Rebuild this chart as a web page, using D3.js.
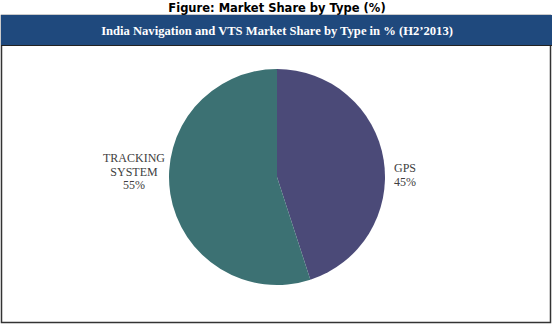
<!DOCTYPE html>
<html>
<head>
<meta charset="utf-8">
<script src="https://cdn.jsdelivr.net/npm/d3@7"></script>
<style>
  body { margin: 0; background: #fff; }
</style>
</head>
<body>
<div id="chart"></div>
<script>
var types = ["GPS", "TRACKING SYSTEM"];
var shares = [45, 55];
var label_lines = [["GPS", "45%"], ["TRACKING", "SYSTEM", "55%"]];
var colors = ["#4b4a78", "#3c7173"];

var full_width = 553, full_height = 325;

var svg = d3.select("#chart")
            .append("svg")
            .attr("width", full_width)
            .attr("height", full_height);

// figure caption
svg.append("text")
   .attr("x", 277)
   .attr("y", 12)
   .attr("text-anchor", "middle")
   .attr("font-family", "DejaVu Sans, Verdana, sans-serif")
   .attr("font-weight", "bold")
   .attr("font-size", "11.5px")
   .attr("fill", "#000")
   .text("Figure: Market Share by Type (%)");

// box
svg.append("rect")
   .attr("x", 1.5).attr("y", 15.5)
   .attr("width", 549).attr("height", 307)
   .attr("fill", "#fff")
   .attr("stroke", "#333")
   .attr("stroke-width", 1.5);

// header band
svg.append("rect")
   .attr("x", 1).attr("y", 15)
   .attr("width", 551).attr("height", 30)
   .attr("fill", "#1f497d");

svg.append("line")
   .attr("x1", 1).attr("x2", 552)
   .attr("y1", 45.5).attr("y2", 45.5)
   .attr("stroke", "#222");

svg.append("text")
   .attr("x", 277)
   .attr("y", 35)
   .attr("text-anchor", "middle")
   .attr("font-family", "Liberation Serif, Times New Roman, serif")
   .attr("font-weight", "bold")
   .attr("font-size", "12.6px")
   .attr("fill", "#fff")
   .text("India Navigation and VTS Market Share by Type in % (H2\u20192013)");

// pie
var cx = 277, cy = 177, radius = 108;

var pie = d3.pie().sort(null).value(d => d);
var arc = d3.arc().innerRadius(0).outerRadius(radius);

var g = svg.append("g")
           .attr("transform", "translate(" + cx + "," + cy + ")");

var arcs = pie(shares);

g.selectAll("path")
 .data(arcs)
 .enter().append("path")
 .attr("d", arc)
 .attr("fill", (d, i) => colors[i]);

// labels outside the pie, left / right of it
arcs.forEach(function(d, i) {
    var tx = i == 0 ? 128 : -143;
    var ty = i == 0 ? -5 : -15;
    var t = g.append("text")
             .attr("text-anchor", "middle")
             .attr("font-family", "Liberation Serif, Times New Roman, serif")
             .attr("font-size", "12px")
             .attr("fill", "#404040");
    label_lines[i].forEach(function(s, k) {
        t.append("tspan")
         .attr("x", tx)
         .attr("y", ty + k * 13.5)
         .text(s);
    });
});
</script>
</body>
</html>
